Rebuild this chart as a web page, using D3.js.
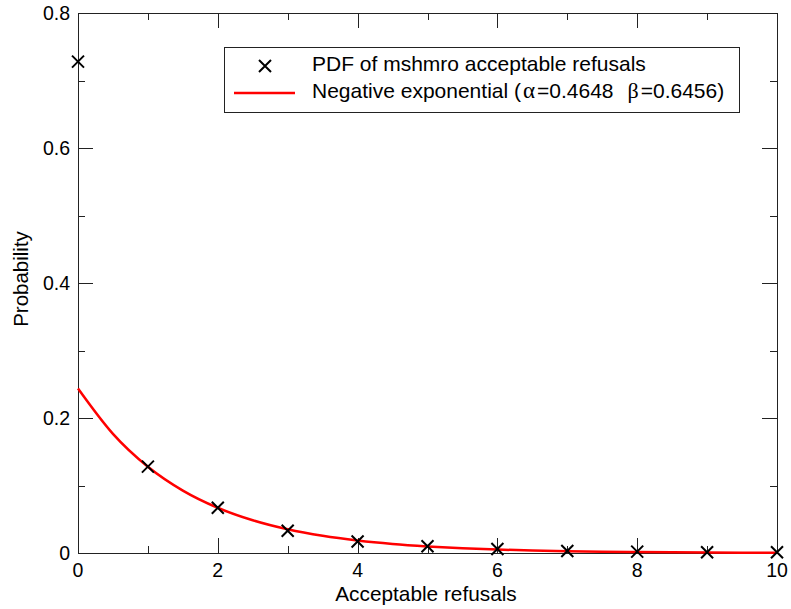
<!DOCTYPE html>
<html><head><meta charset="utf-8">
<script src="https://cdn.jsdelivr.net/npm/d3@7"></script>
<style>body{margin:0;background:#fff}svg{display:block}text{font-family:"Liberation Sans",Arial,sans-serif}</style>
</head><body>
<svg id="c" width="791" height="609"></svg>
<script>
const pdfX = [0,1,2,3,4,5,6,7,8,9,10];
const pdfY = [0.728,0.128,0.067,0.033,0.017,0.010,0.006,0.003,0.002,0.001,0.001];
const fitX = [0,0.5,1,1.5,2,2.5,3,3.5,4,4.5,5,5.5,6,6.5,7,7.5,8,8.5,9,9.5,10];
const fitY = [0.2437,0.1765,0.1278,0.0925,0.0670,0.0485,0.0351,0.0254,0.0184,0.0133,0.0097,0.0070,0.0051,0.0037,0.0027,0.0019,0.0014,0.0010,0.0007,0.0005,0.0004];
const xMajor = [0,2,4,6,8,10];
const xMinor = [1,3,5,7,9];
const yMajor = [0,0.2,0.4,0.6,0.8];
const yMinor = [0.1,0.3,0.5,0.7];
const yLabels = ["0","0.2","0.4","0.6","0.8"];
const legendLabels = ["PDF of mshmro acceptable refusals","Negative exponential ("];

const svg = d3.select("#c");
const L=78, R=777, T=13, B=553;
const x = d3.scaleLinear().domain([0,10]).range([L,R]);
const y = d3.scaleLinear().domain([0,0.8]).range([B,T]);
const ax = "#222";

svg.append("rect").attr("x",L+0.5).attr("y",T+0.5).attr("width",R-L).attr("height",B-T)
  .attr("fill","none").attr("stroke",ax).attr("stroke-width",1);

const g = svg.append("g").attr("stroke",ax).attr("stroke-width",1);
function xt(vals,len){
  vals.forEach(v=>{
    const px=Math.round(x(v))+0.5;
    g.append("line").attr("x1",px).attr("x2",px).attr("y1",B).attr("y2",B-len);
    g.append("line").attr("x1",px).attr("x2",px).attr("y1",T).attr("y2",T+len);
  });
}
function yt(vals,len){
  vals.forEach(v=>{
    const py=Math.round(y(v))+0.5;
    g.append("line").attr("y1",py).attr("y2",py).attr("x1",L).attr("x2",L+len);
    g.append("line").attr("y1",py).attr("y2",py).attr("x1",R).attr("x2",R-len);
  });
}
xt(xMajor,15); xt(xMinor,7); yt(yMajor,15); yt(yMinor,7);

xMajor.forEach(v=>svg.append("text").attr("x",x(v)).attr("y",577).attr("text-anchor","middle")
  .attr("font-size",19.5).text(v));
yMajor.forEach((v,i)=>svg.append("text").attr("x",70).attr("y",y(v)+7).attr("text-anchor","end")
  .attr("font-size",19.5).text(yLabels[i]));

svg.append("text").attr("x",426).attr("y",601).attr("text-anchor","middle").attr("font-size",20.8).text("Acceptable refusals");
svg.append("text").attr("transform","translate(28,279) rotate(-90)").attr("text-anchor","middle").attr("font-size",20.5).text("Probability");

const line = d3.line().x((d,i)=>x(fitX[i])).y(d=>y(d)).curve(d3.curveMonotoneX);
svg.append("path").datum(fitY).attr("d",line).attr("fill","none").attr("stroke","#f00").attr("stroke-width",2.5);

const s=6;
function cross(cx,cy){
  svg.append("path").attr("d",`M${cx-s},${cy-s}L${cx+s},${cy+s}M${cx-s},${cy+s}L${cx+s},${cy-s}`)
    .attr("stroke","#000").attr("stroke-width",2).attr("fill","none");
}
pdfX.forEach((v,i)=>cross(x(v),y(pdfY[i])));

svg.append("rect").attr("x",224.5).attr("y",47.5).attr("width",515).attr("height",65)
  .attr("fill","#fff").attr("stroke",ax).attr("stroke-width",1);
cross(265,66);
svg.append("line").attr("x1",234).attr("x2",295).attr("y1",93).attr("y2",93).attr("stroke","#f00").attr("stroke-width",2.5);
svg.append("text").attr("x",312).attr("y",71).attr("font-size",21).text(legendLabels[0]);
const t2 = svg.append("text").attr("x",312).attr("y",97.5).attr("font-size",21);
t2.append("tspan").text(legendLabels[1]);
t2.append("tspan").attr("dx",2).attr("font-family","Liberation Serif").attr("font-size",23).text("α");
t2.append("tspan").attr("dx",2).text("=0.4648");
t2.append("tspan").attr("dx",14).attr("font-family","Liberation Serif").attr("font-size",22).text("β");
t2.append("tspan").attr("dx",2).text("=0.6456)");
</script>
</body></html>
